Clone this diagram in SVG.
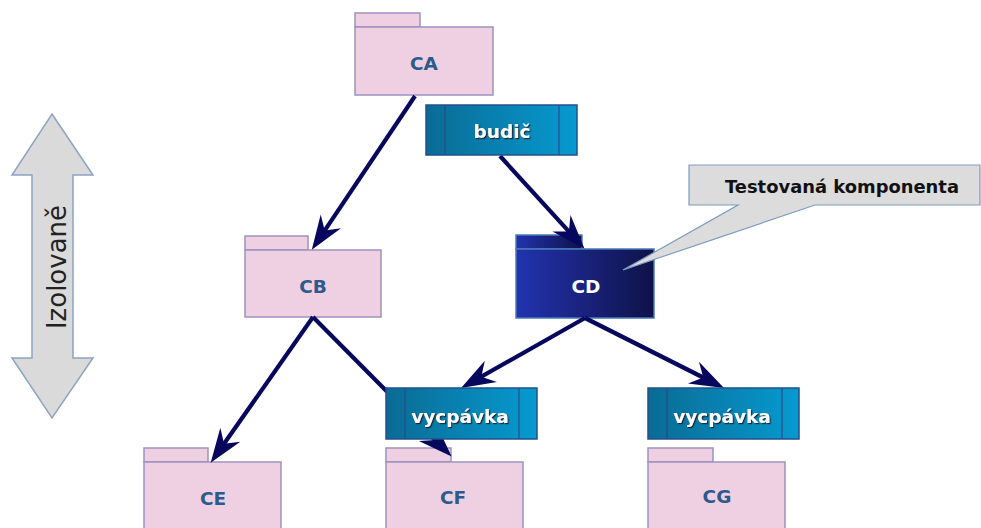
<svg xmlns="http://www.w3.org/2000/svg" width="981" height="528" viewBox="0 0 981 528">
<defs>
<linearGradient id="gBlue" x1="0" y1="0" x2="1" y2="0">
<stop offset="0" stop-color="#0a6b94"/>
<stop offset="1" stop-color="#069ad0"/>
</linearGradient>
<linearGradient id="gNavy" x1="0" y1="0" x2="1" y2="0">
<stop offset="0" stop-color="#2233b0"/>
<stop offset="1" stop-color="#0f1248"/>
</linearGradient>
<filter id="shadow" x="-10%" y="-30%" width="130%" height="160%">
<feDropShadow dx="1.2" dy="1.2" stdDeviation="0.6" flood-color="#1a1a2a" flood-opacity="0.9"/>
</filter>
<marker id="arr" markerUnits="userSpaceOnUse" markerWidth="44" markerHeight="44" viewBox="-22 -13 36 26" refX="0" refY="0" orient="auto">
<path d="M10,0 L-18,-10 L-9,0 L-18,10 Z" fill="#07075e"/>
</marker>
</defs>
<style>
.fold{fill:#efd0e2;stroke:#9d93bf;stroke-width:1.5}
.flab{font-family:"DejaVu Sans",Verdana,sans-serif;font-weight:bold;font-size:18.5px;fill:#2b5a8c;text-anchor:middle}
.comp{fill:url(#gBlue);stroke:#23508c;stroke-width:1.5}
.cline{stroke:#2a4a8a;stroke-width:1.2}
.clab{font-family:"DejaVu Sans",Verdana,sans-serif;font-weight:bold;font-size:18.5px;fill:#ffffff;text-anchor:middle}
.conn{stroke:#07075e;stroke-width:4.2;fill:none;marker-end:url(#arr)}
</style>

<g id="izolovane">
<polygon points="52,114 93,175 73,175 73,358 93,358 52,418 12,358 32,358 32,175 12,175" fill="#dadada" stroke="#8ea2c4" stroke-width="1.5"/>
<text transform="translate(66,267) rotate(-90)" text-anchor="middle" font-family="'DejaVu Sans',Verdana,sans-serif" font-size="26" fill="#222">Izolovaně</text>
</g>

<g id="CA">
<rect class="fold" x="355" y="13" width="65" height="14"/>
<rect class="fold" x="355" y="27" width="138" height="68"/>
<text class="flab" x="424" y="70">CA</text>
</g>
<g id="CB">
<rect class="fold" x="245" y="236" width="63" height="14"/>
<rect class="fold" x="245" y="250" width="136" height="67"/>
<text class="flab" x="313" y="293">CB</text>
</g>
<g id="CE">
<rect class="fold" x="144" y="448" width="64" height="14"/>
<rect class="fold" x="144" y="462" width="137" height="70"/>
<text class="flab" x="213" y="505">CE</text>
</g>
<g id="CF">
<rect class="fold" x="386" y="448" width="65" height="14"/>
<rect class="fold" x="386" y="462" width="137" height="70"/>
<text class="flab" x="453" y="504">CF</text>
</g>
<g id="CG">
<rect class="fold" x="648" y="448" width="65" height="14"/>
<rect class="fold" x="648" y="462" width="137" height="70"/>
<text class="flab" x="717" y="503">CG</text>
</g>

<g id="CD">
<rect x="516" y="235" width="66" height="14" fill="url(#gNavy)" stroke="#4a7ab8" stroke-width="1.5"/>
<rect x="516" y="249" width="138" height="69" fill="url(#gNavy)" stroke="#4a7ab8" stroke-width="1.5"/>
<text class="clab" x="586" y="293">CD</text>
</g>

<g id="callout">
<path d="M689,165 L980,165 L980,205 L815,205 L623,270 L738,205 L689,205 Z" fill="#dcdcdc" stroke="#7e9cc2" stroke-width="1.2"/>
<text x="842" y="193" text-anchor="middle" font-family="'DejaVu Sans',Verdana,sans-serif" font-weight="bold" font-size="17.5" fill="#111" textLength="234" lengthAdjust="spacingAndGlyphs">Testovaná komponenta</text>
</g>

<g id="connectors">
<line class="conn" x1="415" y1="96" x2="318.6" y2="239.7"/>
<line class="conn" x1="500" y1="156" x2="576.3" y2="239.6"/>
<line class="conn" x1="313" y1="317" x2="217.7" y2="452.8"/>
<line class="conn" x1="313" y1="317" x2="443" y2="447.9"/>
<line class="conn" x1="585" y1="318" x2="471.7" y2="382.1"/>
<line class="conn" x1="585" y1="318" x2="713.1" y2="382.5"/>
</g>

<g id="budic">
<rect class="comp" x="426" y="105" width="151" height="50"/>
<line class="cline" x1="445" y1="105" x2="445" y2="155"/>
<line class="cline" x1="559" y1="105" x2="559" y2="155"/>
<text class="clab" x="502" y="138" filter="url(#shadow)">budič</text>
</g>
<g id="vycpavka1">
<rect class="comp" x="386" y="388" width="151" height="51"/>
<line class="cline" x1="405" y1="388" x2="405" y2="439"/>
<line class="cline" x1="519" y1="388" x2="519" y2="439"/>
<text class="clab" x="460" y="423" filter="url(#shadow)">vycpávka</text>
</g>
<g id="vycpavka2">
<rect class="comp" x="648" y="388" width="151" height="51"/>
<line class="cline" x1="667" y1="388" x2="667" y2="439"/>
<line class="cline" x1="782" y1="388" x2="782" y2="439"/>
<text class="clab" x="722" y="423" filter="url(#shadow)">vycpávka</text>
</g>
</svg>
